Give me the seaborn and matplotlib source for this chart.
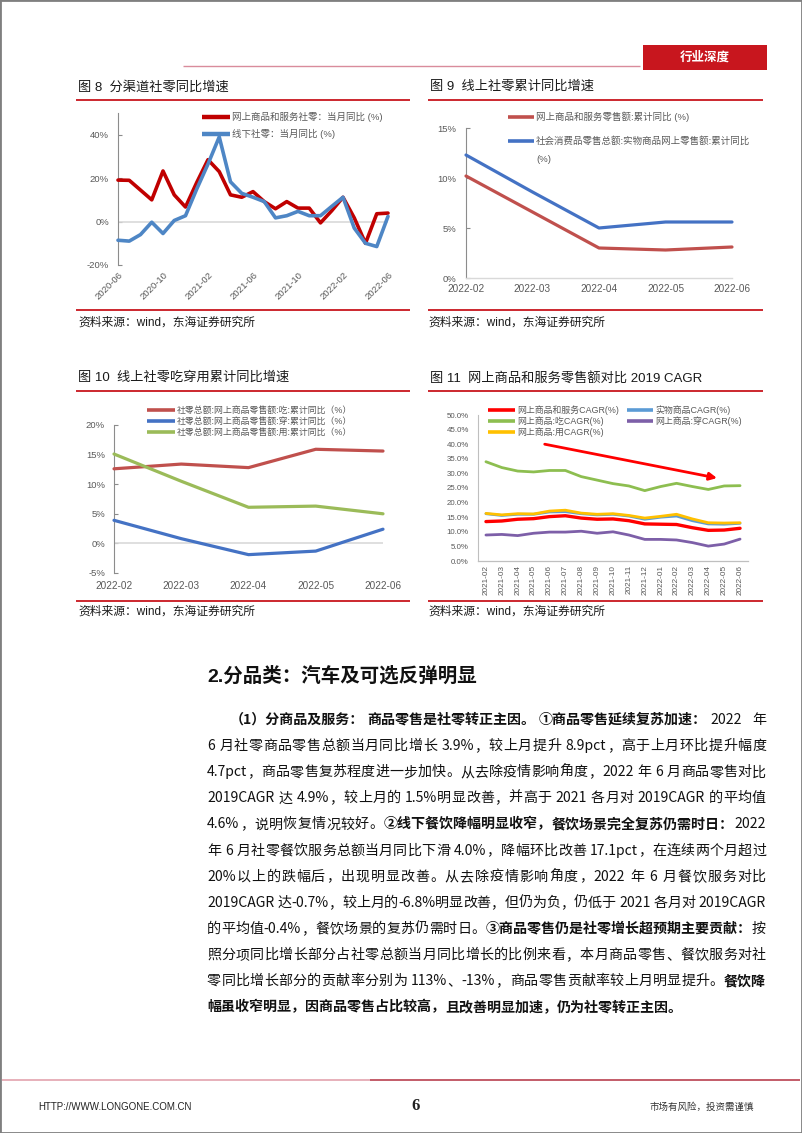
import numpy as np
import matplotlib
matplotlib.use("Agg")
import matplotlib.pyplot as plt
import seaborn as sns
from matplotlib.lines import Line2D
from matplotlib.patches import Rectangle
from matplotlib.ticker import FuncFormatter, FixedLocator
from matplotlib import font_manager

# ---------------- data ----------------
# Fig 8
months_8 = ["2020-06", "2020-07", "2020-08", "2020-09", "2020-10", "2020-11", "2020-12",
            "2021-01", "2021-02", "2021-03", "2021-04", "2021-05", "2021-06", "2021-07",
            "2021-08", "2021-09", "2021-10", "2021-11", "2021-12", "2022-01", "2022-02",
            "2022-03", "2022-04", "2022-05", "2022-06"]
ticks_8 = ["2020-06", "2020-10", "2021-02", "2021-06", "2021-10", "2022-02", "2022-06"]
online_month = [19.1, 19.0, 14.5, 10.0, 23.3, 12.3, 6.7, 18.0, 28.5, 23.0, 12.3, 11.2, 13.8,
                9.2, 5.9, 9.2, 6.2, 6.2, -0.6, 5.0, 11.2, 1.7, -10.0, 3.6, 3.9]
offline_month = [-8.6, -9.0, -6.0, -0.3, -5.5, 0.5, 2.7, 15.0, 26.5, 39.0, 18.3, 13.0, 11.2,
                 9.2, 1.7, 2.7, 4.7, 2.7, 2.7, 7.0, 11.2, -3.0, -10.0, -11.5, 2.4]
labels_8 = ["网上商品和服务社零：当月同比 (%)", "线下社零：当月同比 (%)"]

# Fig 9
months_9 = ["2022-02", "2022-03", "2022-04", "2022-05", "2022-06"]
online_cum = [10.2, 6.6, 3.0, 2.8, 3.1]
physical_cum = [12.3, 8.6, 5.0, 5.6, 5.6]
labels_9 = ["网上商品和服务零售额:累计同比 (%)", "社会消费品零售总额:实物商品网上零售额:累计同比", "(%)"]

# Fig 10
months_10 = ["2022-02", "2022-03", "2022-04", "2022-05", "2022-06"]
food_cum = [12.6, 13.4, 12.8, 15.9, 15.6]
wear_cum = [3.9, 0.8, -1.9, -1.3, 2.4]
use_cum = [15.1, 10.5, 6.1, 6.3, 5.0]
labels_10 = ["社零总额:网上商品零售额:吃:累计同比（%）",
             "社零总额:网上商品零售额:穿:累计同比（%）",
             "社零总额:网上商品零售额:用:累计同比（%）"]

# Fig 11
months_11 = ["2021-02", "2021-03", "2021-04", "2021-05", "2021-06", "2021-07", "2021-08",
             "2021-09", "2021-10", "2021-11", "2021-12", "2022-01", "2022-02", "2022-03",
             "2022-04", "2022-05", "2022-06"]
cagr_total = [13.5, 13.7, 14.3, 14.5, 15.2, 15.5, 14.7, 14.3, 14.4, 13.8, 12.7, 12.6, 12.5,
              11.4, 10.5, 10.6, 11.2]
cagr_physical = [16.2, 15.6, 16.0, 16.0, 16.8, 16.9, 16.2, 15.8, 16.0, 15.4, 14.3, 15.0, 15.4,
                 13.8, 12.7, 12.6, 12.9]
cagr_food = [34.0, 32.0, 30.8, 30.5, 31.0, 31.0, 28.9, 27.7, 26.5, 25.7, 24.1, 25.5, 26.6,
             25.5, 24.5, 25.7, 25.8]
cagr_wear = [8.9, 9.1, 8.7, 9.5, 9.9, 9.9, 10.2, 9.5, 10.0, 8.9, 7.4, 7.4, 7.2, 6.3, 5.1,
             5.8, 7.5]
cagr_use = [16.3, 15.8, 16.2, 16.1, 17.1, 17.4, 16.4, 16.0, 16.2, 15.6, 14.7, 15.3, 16.0,
            14.4, 13.1, 13.0, 13.1]
labels_11 = ["网上商品和服务CAGR(%)", "实物商品CAGR(%)", "网上商品:吃CAGR(%)",
             "网上商品:穿CAGR(%)", "网上商品:用CAGR(%)"]
arrow_start = (3.7, 40.0)
arrow_end = (14.55, 28.4)

titles = ["图 8  分渠道社零同比增速", "图 9  线上社零累计同比增速",
          "图 10  线上社零吃穿用累计同比增速", "图 11  网上商品和服务零售额对比 2019 CAGR"]
source = "资料来源：wind，东海证券研究所"

heading = "2.分品类：汽车及可选反弹明显"
para_lines = [
    [("（1）分商品及服务：商品零售是社零转正主因。①商品零售延续复苏加速：", True), ("2022 年", False)],
    [("6 月社零商品零售总额当月同比增长 3.9%，较上月提升 8.9pct，高于上月环比提升幅度", False)],
    [("4.7pct，商品零售复苏程度进一步加快。从去除疫情影响角度，2022 年 6 月商品零售对比", False)],
    [("2019CAGR 达 4.9%，较上月的 1.5%明显改善，并高于 2021 各月对 2019CAGR 的平均值", False)],
    [("4.6%，说明恢复情况较好。", False), ("②线下餐饮降幅明显收窄，餐饮场景完全复苏仍需时日：", True), ("2022", False)],
    [("年 6 月社零餐饮服务总额当月同比下滑 4.0%，降幅环比改善 17.1pct，在连续两个月超过", False)],
    [("20%以上的跌幅后，出现明显改善。从去除疫情影响角度，2022 年 6 月餐饮服务对比", False)],
    [("2019CAGR 达-0.7%，较上月的-6.8%明显改善，但仍为负，仍低于 2021 各月对 2019CAGR", False)],
    [("的平均值-0.4%，餐饮场景的复苏仍需时日。", False), ("③商品零售仍是社零增长超预期主要贡献：", True), ("按", False)],
    [("照分项同比增长部分占社零总额当月同比增长的比例来看，本月商品零售、餐饮服务对社", False)],
    [("零同比增长部分的贡献率分别为 113%、-13%，商品零售贡献率较上月明显提升。", False), ("餐饮降", True)],
    [("幅虽收窄明显，因商品零售占比较高，且改善明显加速，仍为社零转正主因。", True)],
]

# ---------------- style ----------------
sns.set_style("white")
available = {f.name for f in font_manager.fontManager.ttflist}
latin = "Liberation Sans" if "Liberation Sans" in available else "DejaVu Sans"
plt.rcParams["font.family"] = [latin, "Noto Sans CJK SC", "DejaVu Sans"]
plt.rcParams["axes.unicode_minus"] = False
PARA_FAMILY = ["Noto Sans CJK SC"]

W, H = 802, 1133
fig = plt.figure(figsize=(W / 100, H / 100), dpi=100)
fig.patch.set_facecolor("white")


def X(px):
    return px / W


def Y(py):
    return 1 - py / H


def make_ax(left, top, right, bottom):
    return fig.add_axes([X(left), Y(bottom), (right - left) / W, (bottom - top) / H])


def hline(x0, x1, y, color, lw):
    fig.add_artist(Line2D([X(x0), X(x1)], [Y(y), Y(y)], transform=fig.transFigure,
                          color=color, lw=lw, solid_capstyle="butt"))


def legend_item(x0, x1, y, color, label, fs, lw):
    hline(x0, x1, y, color, lw)
    fig.text(X(x1 + 2), Y(y), label, fontsize=fs, color="#595959", ha="left", va="center")


TICK = "#595959"
RED_RULE = "#C8161E"


def style_axis(ax, fs, ypad):
    sns.despine(ax=ax, top=True, right=True)
    ax.spines["left"].set_color("#8c8c8c")
    ax.spines["left"].set_linewidth(0.8)
    ax.tick_params(axis="y", direction="in", length=3, color="#8c8c8c", labelsize=fs,
                   labelcolor=TICK, pad=ypad, left=True)
    ax.tick_params(axis="x", labelsize=fs, labelcolor=TICK)
    ax.set_xlabel("")
    ax.set_ylabel("")
    ax.set_facecolor("none")


def draw_line(ax, y, color, lw, z):
    xs = np.arange(len(y))
    sns.lineplot(x=xs, y=y, ax=ax, color=color, linewidth=lw, legend=False, zorder=z)
    ln = ax.lines[-1]
    ln.set_clip_on(False)
    ln.set_solid_joinstyle("round")
    ln.set_solid_capstyle("round")


# ---------------- page chrome ----------------
fig.add_artist(Rectangle((0, 0), 1, 1, transform=fig.transFigure, fill=False,
                         edgecolor="#7f7f7f", lw=2))
hline(183, 640, 66, "#D98C9C", 1.0)
fig.add_artist(Rectangle((X(643), Y(70)), (767 - 643) / W, 25 / H, transform=fig.transFigure,
                         facecolor="#C8161E", edgecolor="none"))
fig.text(X(705), Y(57.5), "行业深度", color="white", fontsize=9, fontweight="bold",
         ha="center", va="center")

hline(2, 370, 1080, "#E3A3AE", 1.2)
hline(370, 800, 1080, "#B9414F", 1.2)
fig.text(X(38), Y(1107), "HTTP://WWW.LONGONE.COM.CN", fontsize=7, color="#222222",
         ha="left", va="center")
fig.text(X(416), Y(1106), "6", fontsize=12, fontweight="bold", family="Liberation Serif",
         ha="center", va="center", color="#222222")
fig.text(X(754), Y(1107), "市场有风险，投资需谨慎", fontsize=6.8, color="#333333",
         ha="right", va="center")

# titles, rules, sources
for (tx, ty), t in zip([(78, 87), (430, 87), (78, 378), (430, 378)], titles):
    fig.text(X(tx), Y(ty), t, fontsize=9.5, color="#1a1a1a", ha="left", va="center")
for x0, x1 in [(76, 410), (428, 763)]:
    for y in (100, 310, 391, 601):
        hline(x0, x1, y, RED_RULE, 1.3)
for sx in (78, 428):
    for sy in (323, 612):
        fig.text(X(sx), Y(sy), source, fontsize=8.5, color="#1a1a1a", ha="left", va="center")

# ---------------- Fig 8 ----------------
ax8 = make_ax(118, 113, 388, 265)
ax8.axhline(0, color="#d9d9d9", lw=1.2, zorder=1)
draw_line(ax8, online_month, "#C00000", 2.6, 3)
draw_line(ax8, offline_month, "#4E86C5", 2.6, 4)
ax8.set_xlim(0, len(months_8) - 1)
ax8.set_ylim(-20, 50)
style_axis(ax8, 6.8, 6.5)
ax8.spines["bottom"].set_visible(False)
ax8.yaxis.set_major_locator(FixedLocator([-20, 0, 20, 40]))
ax8.yaxis.set_major_formatter(FuncFormatter(lambda v, p: f"{v:.0f}%"))
ax8.set_xticks([months_8.index(t) for t in ticks_8])
ax8.set_xticklabels(ticks_8, rotation=45, ha="right", va="top", rotation_mode="anchor")
ax8.tick_params(axis="x", length=0, pad=4)
legend_item(202, 230, 117, "#C00000", labels_8[0], 6.8, 3.2)
legend_item(202, 230, 134, "#4E86C5", labels_8[1], 6.8, 3.2)

# ---------------- Fig 9 ----------------
ax9 = make_ax(466, 128, 732, 278)
draw_line(ax9, online_cum, "#C0504D", 2.3, 3)
draw_line(ax9, physical_cum, "#4472C4", 2.3, 4)
ax9.set_xlim(0, len(months_9) - 1)
ax9.set_ylim(0, 15)
style_axis(ax9, 6.8, 7)
ax9.spines["bottom"].set_color("#d9d9d9")
ax9.spines["bottom"].set_linewidth(1.0)
ax9.yaxis.set_major_locator(FixedLocator([0, 5, 10, 15]))
ax9.yaxis.set_major_formatter(FuncFormatter(lambda v, p: f"{v:.0f}%"))
ax9.set_xticks(range(len(months_9)))
ax9.set_xticklabels(months_9)
ax9.tick_params(axis="x", length=0, pad=4, labelsize=7.2)
legend_item(508, 534, 117, "#C0504D", labels_9[0], 6.8, 2.6)
legend_item(508, 534, 141, "#4472C4", labels_9[1], 6.8, 2.6)
fig.text(X(536), Y(159), labels_9[2], fontsize=6.8, color="#595959", ha="left", va="center")

# ---------------- Fig 10 ----------------
ax10 = make_ax(114, 425, 383, 573)
ax10.axhline(0, color="#d9d9d9", lw=1.2, zorder=1)
draw_line(ax10, food_cum, "#C0504D", 2.3, 3)
draw_line(ax10, wear_cum, "#4472C4", 2.3, 4)
draw_line(ax10, use_cum, "#9BBB59", 2.3, 5)
ax10.set_xlim(0, len(months_10) - 1)
ax10.set_ylim(-5, 20)
style_axis(ax10, 6.8, 6.5)
ax10.spines["bottom"].set_visible(False)
ax10.yaxis.set_major_locator(FixedLocator([-5, 0, 5, 10, 15, 20]))
ax10.yaxis.set_major_formatter(FuncFormatter(lambda v, p: f"{v:.0f}%"))
ax10.set_xticks(range(len(months_10)))
ax10.set_xticklabels(months_10)
ax10.tick_params(axis="x", length=0, pad=6, labelsize=7.2)
for lab, col, yy in zip(labels_10, ["#C0504D", "#4472C4", "#9BBB59"], [410, 421, 432]):
    legend_item(147, 175, yy, col, lab, 6.4, 2.6)

# ---------------- Fig 11 ----------------
ax11 = make_ax(478, 415, 748, 561)
colors_11 = ["#FF0000", "#5B9BD5", "#8DBE50", "#7D5FA8", "#FFC000"]
series_11 = [cagr_total, cagr_physical, cagr_food, cagr_wear, cagr_use]
for i, (s, c) in enumerate(zip(series_11, colors_11)):
    draw_line(ax11, s, c, 2.4 if i == 0 else 2.0, 3 + i)
ax11.set_xlim(-0.5, len(months_11) - 0.5)
ax11.set_ylim(0, 50)
style_axis(ax11, 5.7, 6.5)
ax11.spines["left"].set_color("#bfbfbf")
ax11.spines["bottom"].set_color("#bfbfbf")
ax11.spines["bottom"].set_linewidth(0.9)
ax11.tick_params(axis="y", length=0)
ax11.yaxis.set_major_locator(FixedLocator(np.arange(0, 51, 5)))
ax11.yaxis.set_major_formatter(FuncFormatter(lambda v, p: f"{v:.1f}%"))
ax11.set_xticks(range(len(months_11)))
ax11.set_xticklabels(months_11, rotation=90, ha="center", va="top")
ax11.tick_params(axis="x", length=0, pad=3, labelsize=5.9)
ax11.set_xticks(np.arange(-0.5, len(months_11), 1), minor=True)
ax11.tick_params(axis="x", which="minor", length=3, color="#bfbfbf", direction="out")
ax11.annotate("", xy=arrow_end, xytext=arrow_start,
              arrowprops=dict(arrowstyle="-|>", color="#FF0000", lw=2.0, mutation_scale=11,
                              shrinkA=0, shrinkB=0), zorder=10)
leg_pos = [(488, 515, 410), (627, 653, 410), (488, 515, 421), (627, 653, 421), (488, 515, 432)]
for (x0, x1, yy), lab, col in zip(leg_pos, labels_11, colors_11):
    legend_item(x0, x1, yy, col, lab, 6.4, 2.6)

# ---------------- text section ----------------
fig.text(X(207), Y(676), heading, fontsize=14, fontweight="bold", color="#111111",
         ha="left", va="center", family=[latin, "Noto Sans CJK SC"])

renderer = fig.canvas.get_renderer()
PFS = 10.1
SPACE_W = PFS * 100 / 72 * 0.25
BASE_OFF = PFS * 100 / 72 * 0.36
RIGHT = 766
BREAKS = "：。，；、"


def tokenize(runs):
    toks = []  # (text or None for space, bold)
    for txt, bold in runs:
        if bold:
            buf = ""
            for ch in txt:
                buf += ch
                if ch in BREAKS:
                    toks.append((buf, True))
                    buf = ""
            if buf:
                toks.append((buf, True))
            continue
        buf = ""
        for ch in txt:
            if ch == " ":
                if buf:
                    toks.append((buf, bold))
                    buf = ""
                toks.append((None, bold))
            elif ord(ch) > 0x2000:
                if buf:
                    toks.append((buf, bold))
                    buf = ""
                toks.append((ch, bold))
            else:
                buf += ch
        if buf:
            toks.append((buf, bold))
    return toks


line_y0, line_step = 719, 26.1
for i, runs in enumerate(para_lines):
    x0 = 230 if i == 0 else 207
    yb = line_y0 + i * line_step + BASE_OFF
    toks = tokenize(runs)
    items = []
    for tk, bold in toks:
        if tk is None:
            items.append((None, SPACE_W))
            continue
        t = fig.text(X(x0), Y(yb), tk, fontsize=PFS, color="#111111",
                     fontweight="bold" if bold else "normal",
                     ha="left", va="baseline", family=PARA_FAMILY)
        items.append((t, t.get_window_extent(renderer=renderer).width))
    natural = sum(w for _, w in items)
    last_line = (i == len(para_lines) - 1)
    gap = 0.0 if last_line or len(items) < 2 else (RIGHT - x0 - natural) / (len(items) - 1)
    x = x0
    for t, w in items:
        if t is not None:
            t.set_position((X(x), Y(yb)))
        x += w + gap

fig.savefig("out.png", dpi=100)
